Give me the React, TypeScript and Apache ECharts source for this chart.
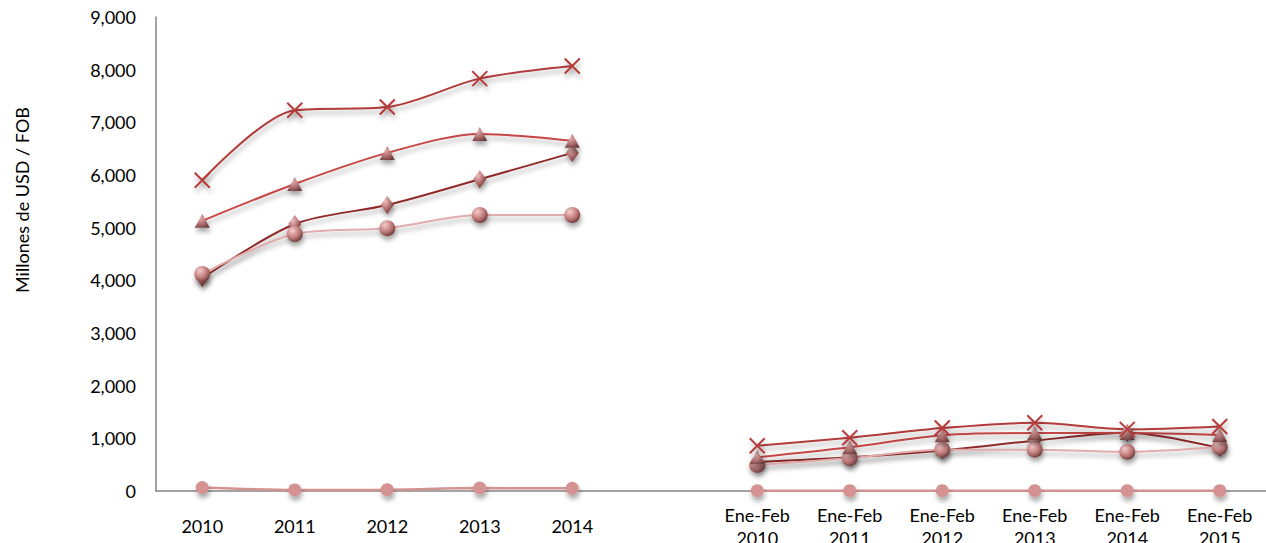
import React, { useEffect, useRef } from 'react';
import * as echarts from 'echarts';

const categories = [
  '2010', '2011', '2012', '2013', '2014', '',
  'Ene-Feb\n2010', 'Ene-Feb\n2011', 'Ene-Feb\n2012', 'Ene-Feb\n2013', 'Ene-Feb\n2014', 'Ene-Feb\n2015',
];
const crossValues = [5900, 7230, 7290, 7830, 8070, null, 860, 1010, 1195, 1295, 1170, 1225];
const triangleValues = [5130, 5830, 6420, 6780, 6650, null, 640, 830, 1060, 1100, 1100, 1065];
const diamondValues = [4040, 5070, 5430, 5920, 6420, null, 550, 640, 770, 955, 1105, 815];
const sphereValues = [4120, 4880, 4990, 5240, 5240, null, 495, 625, 785, 785, 745, 835];
const bottomValues = [65, 20, 25, 55, 50, null, 5, 5, 5, 5, 5, 5];
const yMin = 0;
const yMax = 9000;
const yInterval = 1000;
const yAxisTitle = 'Millones de USD / FOB';

const FONT = 'Lato';

const shadow = {
  shadowColor: 'rgba(0,0,0,0.35)',
  shadowBlur: 5,
  shadowOffsetX: 1,
  shadowOffsetY: 4,
};

const radial = (light: string, mid: string, dark: string) => ({
  type: 'radial',
  x: 0.35,
  y: 0.3,
  r: 0.8,
  colorStops: [
    { offset: 0, color: light },
    { offset: 0.55, color: mid },
    { offset: 1, color: dark },
  ],
});

export default function App() {
  const ref = useRef<HTMLDivElement>(null);
  useEffect(() => {
    if (!ref.current) return;
    const chart = echarts.init(ref.current, undefined, { renderer: 'svg' });
    const option: any = {
      animation: false,
      backgroundColor: '#ffffff',
      grid: { left: 156, right: 0, top: 17, height: 474, containLabel: false, outerBoundsMode: 'none' },
      xAxis: {
        type: 'category',
        data: categories,
        boundaryGap: true,
        axisLine: { show: true, lineStyle: { color: '#858585', width: 1.5 } },
        axisTick: { show: false },
        axisLabel: {
          interval: 0,
          color: '#000',
          fontFamily: FONT,
          fontSize: 18,
          lineHeight: 23,
          margin: 35,
          verticalAlign: 'middle',
        },
        splitLine: { show: false },
      },
      yAxis: {
        type: 'value',
        min: yMin,
        max: yMax,
        interval: yInterval,
        axisLine: { show: true, lineStyle: { color: '#858585', width: 1.5 } },
        axisTick: { show: false },
        splitLine: { show: false },
        axisLabel: {
          color: '#000',
          fontFamily: FONT,
          fontSize: 18,
          margin: 20,
          formatter: (v: number) => v.toLocaleString('en-US'),
        },
      },
      graphic: [
        {
          type: 'text',
          x: 22,
          y: 200,
          rotation: Math.PI / 2,
          style: {
            text: yAxisTitle,
            fill: '#000',
            font: `18px ${FONT}`,
            textAlign: 'center',
            textVerticalAlign: 'middle',
          },
        },
      ],
      series: [
        {
          name: 'diamond',
          type: 'line',
          data: diamondValues,
          smooth: 0.3,
          connectNulls: false,
          symbol: 'diamond',
          symbolSize: [13, 18],
          lineStyle: { color: '#8f2b2b', width: 2, ...shadow },
          itemStyle: { color: radial('#f0c0c0', '#b06a6a', '#5a2a2a'), ...shadow },
        },
        {
          name: 'sphere',
          type: 'line',
          data: sphereValues,
          smooth: 0.3,
          connectNulls: false,
          symbol: 'circle',
          symbolSize: 16,
          lineStyle: { color: '#e2acac', width: 2, ...shadow },
          itemStyle: { color: radial('#f6cccc', '#c07a7a', '#5e2e2e'), ...shadow },
        },
        {
          name: 'triangle',
          type: 'line',
          data: triangleValues,
          smooth: 0.3,
          connectNulls: false,
          symbol: 'triangle',
          symbolSize: [15, 14],
          lineStyle: { color: '#c64646', width: 2, ...shadow },
          itemStyle: { color: radial('#e6b0b0', '#b07070', '#6a3a3a'), ...shadow },
        },
        {
          name: 'cross',
          type: 'line',
          data: crossValues,
          smooth: 0.3,
          connectNulls: false,
          symbol: 'path://M0,0L10,10M10,0L0,10',
          symbolSize: 15,
          lineStyle: { color: '#b23a3a', width: 2, ...shadow },
          itemStyle: { color: 'none', borderColor: '#b83b3b', borderWidth: 2, ...shadow },
        },
        {
          name: 'bottom',
          type: 'line',
          data: bottomValues,
          smooth: 0.3,
          connectNulls: false,
          symbol: 'circle',
          symbolSize: 13,
          lineStyle: { color: '#d49292', width: 2.5 },
          itemStyle: { color: '#d49292', ...shadow },
        },
      ],
    };
    chart.setOption(option);
    return () => chart.dispose();
  }, []);
  return (
    <div
      ref={ref}
      style={{ position: 'fixed', left: 0, top: 0, width: 1266, height: 543, background: '#fff' }}
    />
  );
}
